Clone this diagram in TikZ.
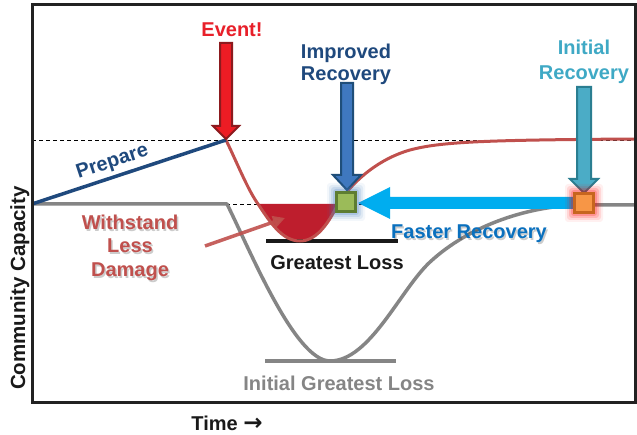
\documentclass[tikz,border=0pt]{standalone}
\usepackage{fontspec}
\setmainfont{Liberation Sans}
\newfontfamily\arrowfont{DejaVu Sans}
\usetikzlibrary{arrows.meta}
\definecolor{navy}{HTML}{1F497D}
\definecolor{gline}{HTML}{858585}
\definecolor{rline}{HTML}{C0504D}
\definecolor{bowlred}{HTML}{BE1E2D}
\definecolor{evfill}{HTML}{ED1C24}
\definecolor{evdraw}{HTML}{8C1A1E}
\definecolor{evtext}{HTML}{E8202A}
\definecolor{impfill}{HTML}{3F78BF}
\definecolor{impdraw}{HTML}{1F4E79}
\definecolor{inifill}{HTML}{4BACC6}
\definecolor{inidraw}{HTML}{2A7E91}
\definecolor{initxt}{HTML}{3FA9C5}
\definecolor{cyanarr}{HTML}{00ADEF}
\definecolor{fastxt}{HTML}{0A70BE}
\definecolor{grfill}{HTML}{9BBB59}
\definecolor{grdraw}{HTML}{5E7D32}
\definecolor{orfill}{HTML}{F79646}
\definecolor{ordraw}{HTML}{C7651F}
\definecolor{frame}{HTML}{222222}
\begin{document}
\begin{tikzpicture}[x=1pt,y=-1pt,
  lbl/.style={font=\bfseries\fontsize{20}{24}\selectfont, inner sep=0pt, anchor=base},
  shadowtxt/.style={lbl, text=black, opacity=0.2},
  dashline/.style={black, dashed, line width=0.8pt, dash pattern=on 4pt off 3pt},
  blockarrow/.style={line width=2pt, line join=miter}
]
\useasboundingbox (0,0) rectangle (637,435);
\fill[white] (0,0) rectangle (637,435);

% dashed reference lines
\draw[dashline] (32,140) -- (635,140);
\draw[dashline] (226,204) -- (635,204);

% red bowl fill
\fill[bowlred] (258,204) .. controls (270,222) and (282,241) .. (300,241)
  .. controls (318,241) and (330,220) .. (338,204) -- cycle;

% gray original curve
\draw[gline, line width=3.5pt, line join=round] (32,204) -- (227,204)
  .. controls (250,250) and (295,361) .. (330,361)
  .. controls (370,361) and (400,290) .. (430,262)
  .. controls (470,225) and (530,205) .. (584,205) -- (635,205);
\draw[gline, line width=4pt] (265,361) -- (396,361);

% black greatest loss bar
\draw[black!90, line width=4pt] (266,241) -- (398,241);

% red improved curve
\draw[rline, line width=3pt] (226,140) .. controls (238,165) and (248,190) .. (258,204)
  .. controls (270,222) and (282,241) .. (300,241)
  .. controls (318,241) and (330,220) .. (338,204)
  .. controls (350,185) and (375,160) .. (410,150)
  .. controls (440,142) and (480,140) .. (635,139);

% prepare line
\draw[navy, line width=3.5pt] (32,204) -- (226,140);

% withstand arrow
\draw[rline, line width=3.5pt, -{Triangle[length=12pt,width=12pt]}, opacity=0.9] (205,246) -- (285,218);

% event arrow
\draw[blockarrow, evdraw, fill=evfill] (220,43) -- (232,43) -- (232,126) -- (239,126) -- (226,139) -- (213,126) -- (220,126) -- cycle;
% improved arrow
\draw[blockarrow, impdraw, fill=impfill] (341,83) -- (353,83) -- (353,175) -- (361,175) -- (347,190) -- (333,175) -- (341,175) -- cycle;
% initial arrow
\draw[blockarrow, inidraw, fill=inifill] (577,87) -- (591,87) -- (591,179) -- (598,179) -- (584,193) -- (570,179) -- (577,179) -- cycle;

% faster recovery arrow
\fill[cyanarr] (574,197) -- (390,197) -- (390,187) -- (358,203) -- (390,219) -- (390,209) -- (574,209) -- cycle;

% squares with glow
\foreach \g/\o in {8/0.06,6/0.1,4/0.15,2/0.2}{
  \fill[impfill, opacity=\o, rounded corners=3pt] (335-\g,191-\g) rectangle (357+\g,213+\g);
  \fill[red, opacity=\o, rounded corners=3pt] (573-\g,192-\g) rectangle (595+\g,214+\g);
}
\node[draw=grdraw, fill=grfill, line width=2.5pt, minimum size=19pt, inner sep=0pt] (green) at (346,202) {};
\node[draw=ordraw, fill=orfill, line width=2.5pt, minimum size=19pt, inner sep=0pt] (orange) at (584,203) {};

% frame
\draw[frame, line width=3pt] (32,5) rectangle (635,402);

% texts
\node[lbl, text=evtext] (event) at (232,37) {Event!};
\node[lbl, text=navy] (imp1) at (346,59) {Improved};
\node[lbl, text=navy] (imp2) at (346,81) {Recovery};
\node[lbl, text=initxt] (ini1) at (584,55) {Initial};
\node[lbl, text=initxt] (ini2) at (584,80) {Recovery};
\node[lbl, text=navy, rotate=18.3] (prep) at (114,167) {Prepare};

\node[shadowtxt] (ws1s) at (131.5,231.5) {Withstand};
\node[shadowtxt] (ws2s) at (131.5,254.5) {Less};
\node[shadowtxt] (ws3s) at (131.5,278.5) {Damage};
\node[lbl, text=rline] (ws1) at (130,230) {Withstand};
\node[lbl, text=rline] (ws2) at (130,253) {Less};
\node[lbl, text=rline] (ws3) at (130,277) {Damage};

\node[shadowtxt] (fasts) at (470.5,240.5) {Faster Recovery};
\node[lbl, text=fastxt] (fast) at (469,239) {Faster Recovery};

\node[lbl, text=black!90] (gl) at (337,270) {Greatest Loss};
\node[lbl, text=gline] (igl) at (339,391) {Initial Greatest Loss};
\node[lbl, text=black!90] (time) at (227,430) {Time {\arrowfont\bfseries\fontsize{23}{24}\selectfont →}};
\node[lbl, text=black!90, rotate=90, font=\bfseries\fontsize{20.5}{24}\selectfont] (cc) at (25,288) {Community Capacity};
\end{tikzpicture}
\end{document}
